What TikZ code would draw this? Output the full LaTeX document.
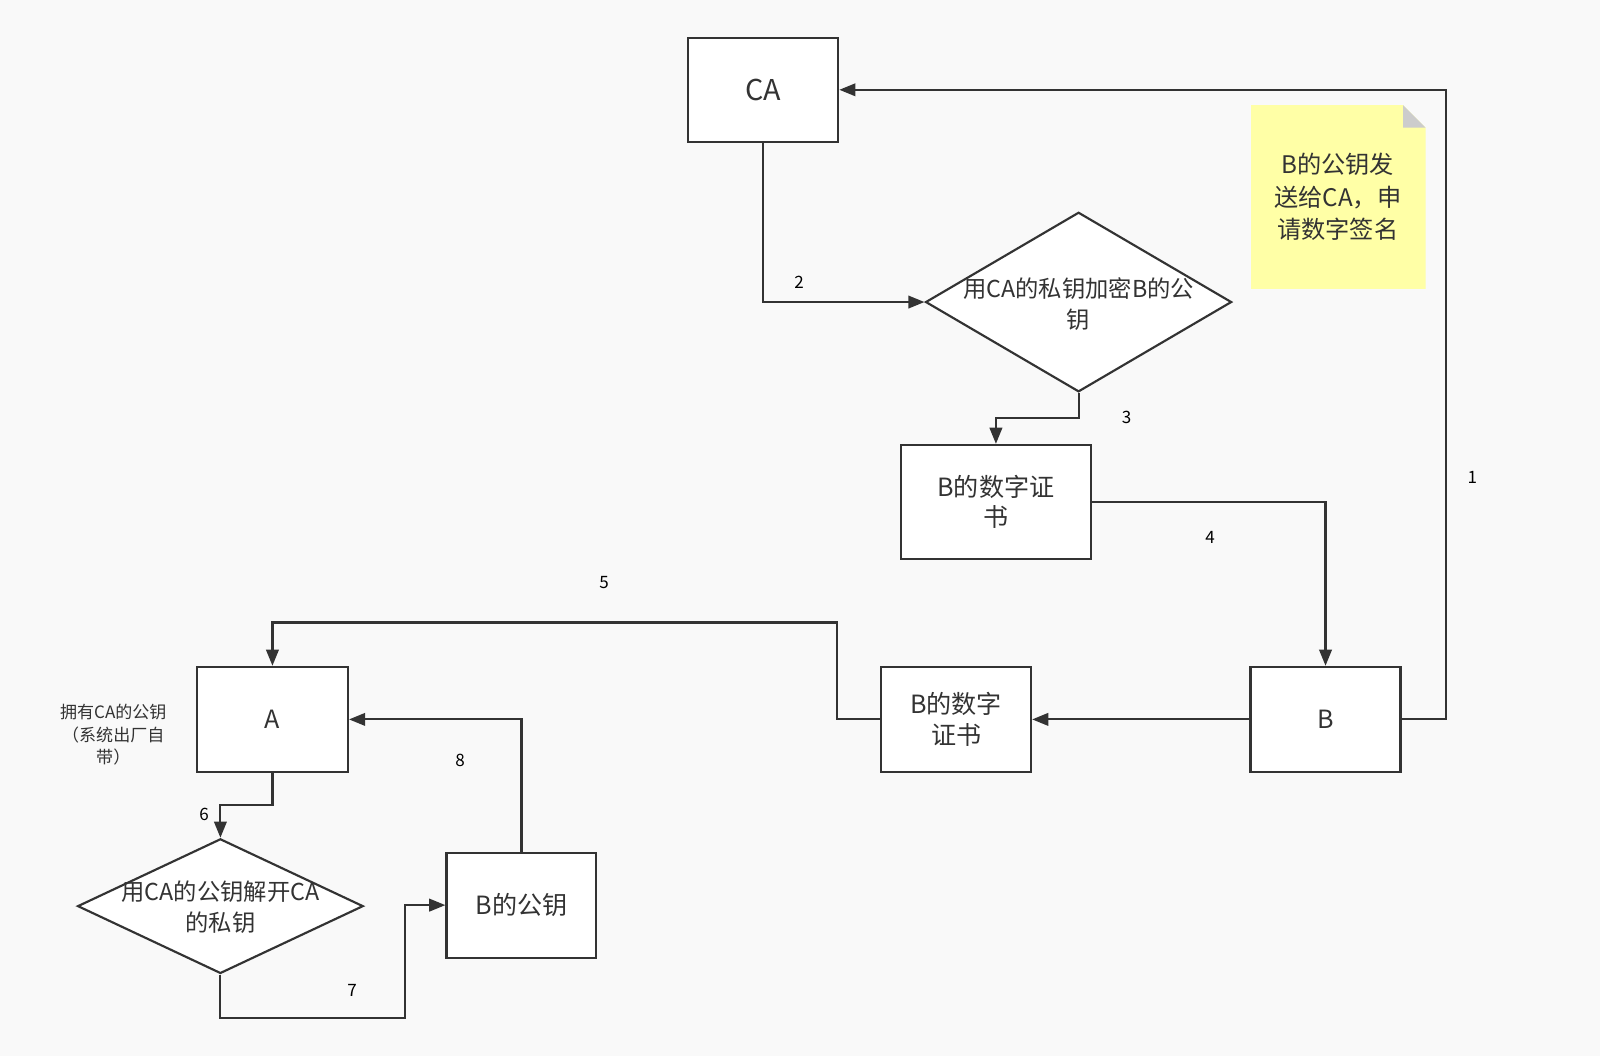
\documentclass[tikz,border=0pt]{standalone}
\usepackage{fontspec}
\setmainfont{Noto Sans CJK SC}
\usetikzlibrary{shapes.geometric,arrows.meta}
\definecolor{ln}{HTML}{333333}
\definecolor{bg}{HTML}{F9F9F9}
\definecolor{note}{HTML}{FFFFA6}
\begin{document}
\begin{tikzpicture}[x=0.02cm,y=-0.02cm,
  box/.style={draw=ln,line width=1.2pt,fill=white,inner sep=0pt,align=center,font=\fontsize{14}{17}\selectfont,text=ln},
  dia/.style={draw=ln,line width=1.2pt,fill=white,shape=diamond,inner sep=0pt},
  dtxt/.style={align=center,font=\fontsize{13}{17}\selectfont,text=ln},
  con/.style={draw=ln,line width=1.2pt,-{Triangle[length=9pt,width=7pt]}},
  lab/.style={font=\fontsize{9.5}{11}\selectfont,text=black}]
\fill[bg] (0,0) rectangle (1568,1035);
\useasboundingbox (0,0) rectangle (1568,1035);
% note
\fill[note] (1226,103) -- (1375,103) -- (1397,125) -- (1397,283) -- (1226,283) -- cycle;
\fill[black!20] (1375,103) -- (1397,125) -- (1375,125) -- cycle;
\node[dtxt,font=\fontsize{13.5}{18}\selectfont] (nt) at (1311,193) {B的公钥发\\送给CA，申\\请数字签名};
% nodes
\node[box,minimum width=2.94cm,minimum height=2.04cm,font=\fontsize{16}{19}\selectfont] (ca) at (748,88) {CA};
\node[dia,minimum width=6cm,minimum height=3.52cm] (d1) at (1057,296) {};
\node[dtxt] (d1t) at (1057,298) {用CA的私钥加密B的公\\钥};
\node[box,minimum width=3.72cm,minimum height=2.24cm] (cert1) at (976,492) {B的数字证\\书};
\node[box,minimum width=2.94cm,minimum height=2.06cm] (b) at (1299,705) {B};
\node[box,minimum width=2.94cm,minimum height=2.06cm] (cert2) at (937,705) {B的数字\\证书};
\node[box,minimum width=2.96cm,minimum height=2.06cm] (a) at (267,705) {A};
\node[dia,minimum width=5.6cm,minimum height=2.64cm] (d2) at (216,888) {};
\node[dtxt] (d2t) at (216,889) {用CA的公钥解开CA\\的私钥};
\node[box,minimum width=2.94cm,minimum height=2.06cm] (bpk) at (511,887) {B的公钥};
\node[align=center,font=\fontsize{9.5}{12.5}\selectfont,text=ln] (an) at (111,720) {拥有CA的公钥\\（系统出厂自\\带）};
% connectors
\draw[con] (b.east) -- (1417,705) -- (1417,88) -- (ca.east);
\draw[con] (ca.south) |- (d1.west);
\draw[con] (d1.south) -- (1057,410) -| (cert1.north);
\draw[con] (cert1.east) -| (b.north);
\draw[con] (b.west) -- (cert2.east);
\draw[con] (cert2.west) -- (820,705) -- (820,610) -| (a.north);
\draw[con] (a.south) -- (267,789) -| (d2.north);
\draw[con] (d2.south) -- (216,998) -- (397,998) |- (bpk.west);
\draw[con] (bpk.north) |- (a.east);
% labels
\node[lab] (l1) at (1443,468) {1};
\node[lab] (l2) at (783,277) {2};
\node[lab] (l3) at (1104,409) {3};
\node[lab] (l4) at (1186,527) {4};
\node[lab] (l5) at (592,571) {5};
\node[lab] (l6) at (200,798) {6};
\node[lab] (l7) at (345,971) {7};
\node[lab] (l8) at (451,745) {8};
\end{tikzpicture}
\end{document}
